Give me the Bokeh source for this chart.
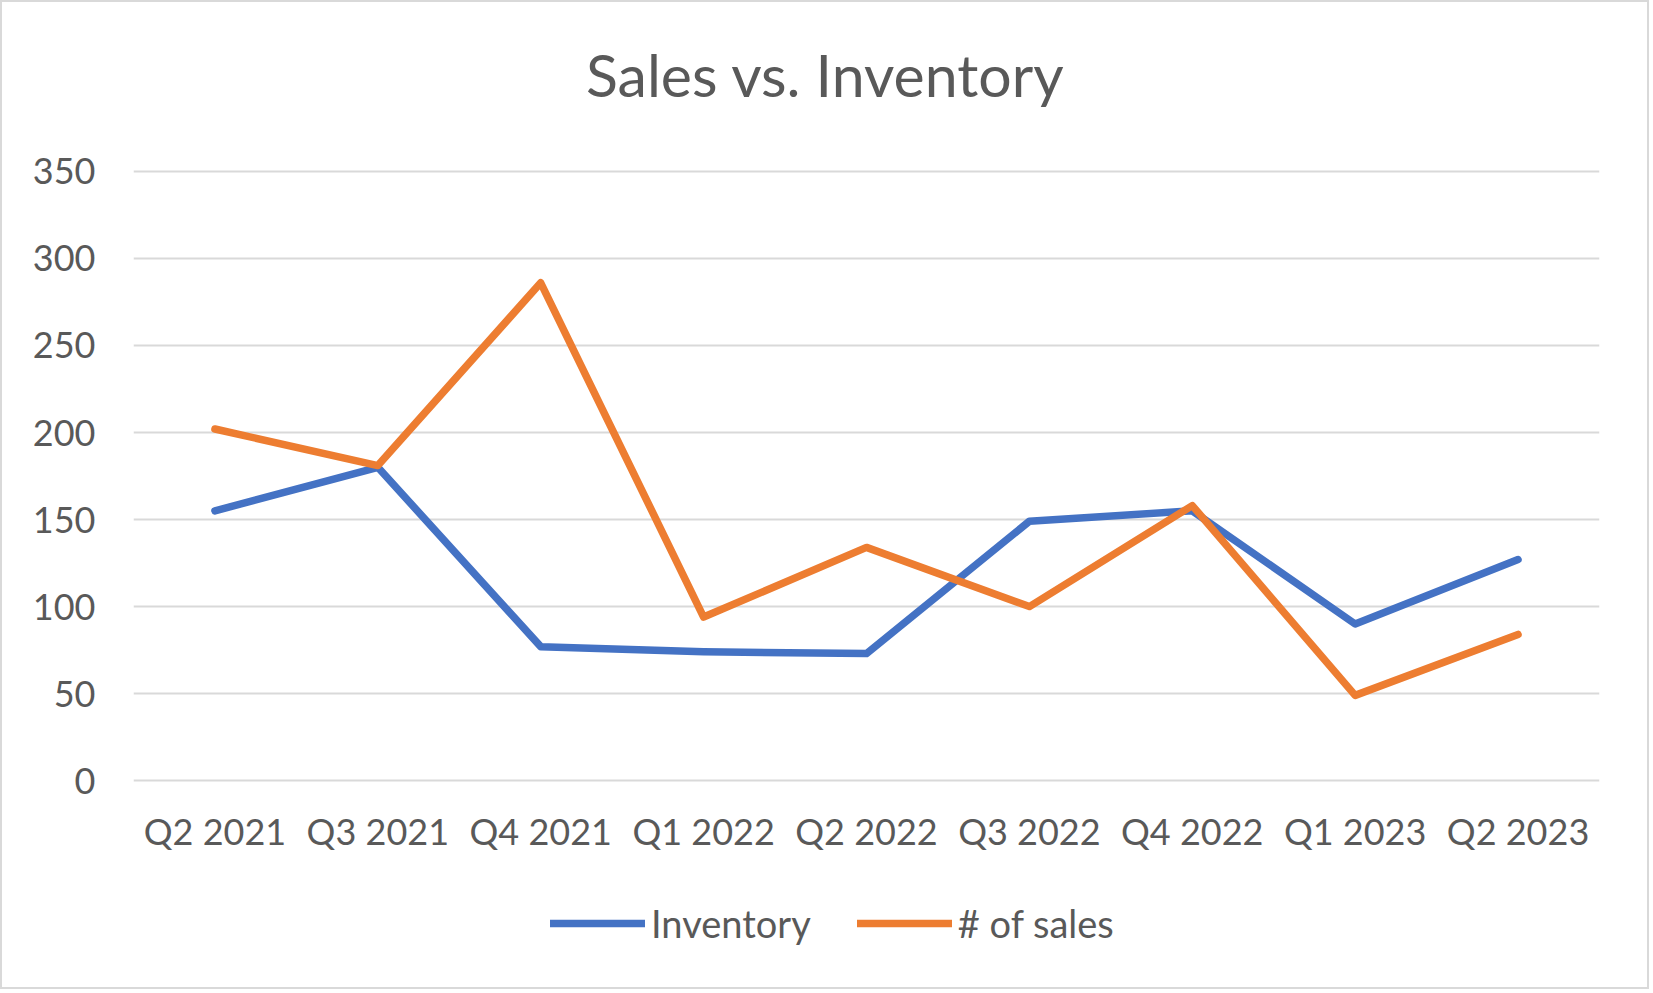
from bokeh.plotting import figure
from bokeh.models import (Range1d, FactorRange, FixedTicker, Legend, LegendItem, Label)
from bokeh.embed import file_html
from bokeh.resources import INLINE

quarters = ["Q2 2021", "Q3 2021", "Q4 2021", "Q1 2022", "Q2 2022",
            "Q3 2022", "Q4 2022", "Q1 2023", "Q2 2023"]
inventory = [155, 180, 77, 74, 73, 149, 155, 90, 127]
sales = [202, 181, 286, 94, 134, 100, 158, 49, 84]
y_ticks = [0, 50, 100, 150, 200, 250, 300, 350]

TEXT = "#595959"
FONT = "Lato"

p = figure(width=1649, height=989, output_backend="svg", toolbar_location=None,
           x_range=FactorRange(factors=quarters, range_padding=0),
           y_range=Range1d(-121.1, 447.0),
           min_border_left=131, min_border_right=52,
           min_border_top=0, min_border_bottom=0)
p.styles = {"border": "2px solid #d9d9d9"}
p.outline_line_color = None
p.background_fill_color = "white"
p.border_fill_color = "white"

p.xgrid.grid_line_color = None
p.ygrid.grid_line_color = "#d9d9d9"
p.ygrid.grid_line_width = 2
p.yaxis.ticker = FixedTicker(ticks=y_ticks)
p.xaxis.fixed_location = 0

for ax in (p.xaxis[0], p.yaxis[0]):
    ax.axis_line_color = None
    ax.major_tick_line_color = None
    ax.minor_tick_line_color = None
    ax.major_tick_out = 0
    ax.major_tick_in = 0
    ax.major_label_text_font = FONT
    ax.major_label_text_font_size = "36px"
    ax.major_label_text_color = TEXT
p.yaxis.major_label_standoff = 38
p.xaxis.major_label_standoff = 28

r_inv = p.line(quarters, inventory, line_color="#4472C4", line_width=7.5,
               line_cap="round", line_join="round")
r_sales = p.line(quarters, sales, line_color="#ED7D31", line_width=7.5,
                 line_cap="round", line_join="round")

title = Label(x=692, y=917, x_units="screen", y_units="screen",
              text="Sales vs. Inventory", text_align="center",
              text_baseline="alphabetic", text_font=FONT,
              text_font_size="59px", text_color=TEXT)
p.add_layout(title)

legend = Legend(items=[LegendItem(label="Inventory", renderers=[r_inv]),
                       LegendItem(label="# of sales", renderers=[r_sales])],
                location=(417, 45), orientation="horizontal",
                glyph_width=95, glyph_height=30, label_height=30,
                label_standoff=6, spacing=46, padding=0, margin=0,
                border_line_color=None, background_fill_alpha=0,
                label_text_font=FONT, label_text_font_size="38px",
                label_text_color=TEXT)
p.add_layout(legend)

open("out.html", "w").write(file_html(p, INLINE))
